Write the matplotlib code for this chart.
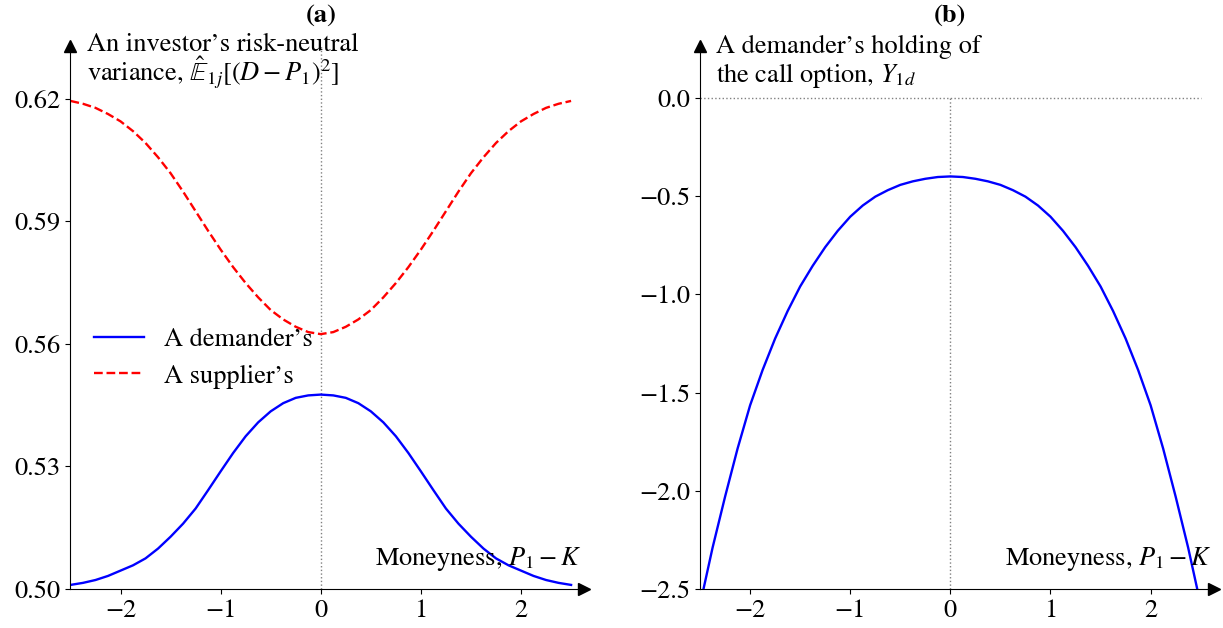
import matplotlib
matplotlib.use('Agg')
import matplotlib.pyplot as plt

plt.rcParams['font.family'] = ['STIXGeneral', 'DejaVu Serif']
plt.rcParams['mathtext.fontset'] = 'stix'
plt.rcParams['font.size'] = 19

# moneyness grid
x = [-2.5, -2.375, -2.25, -2.125, -2.0, -1.875, -1.75, -1.625, -1.5, -1.375, -1.25,
     -1.125, -1.0, -0.875, -0.75, -0.625, -0.5, -0.375, -0.25, -0.125, 0.0,
     0.125, 0.25, 0.375, 0.5, 0.625, 0.75, 0.875, 1.0, 1.125, 1.25,
     1.375, 1.5, 1.625, 1.75, 1.875, 2.0, 2.125, 2.25, 2.375, 2.5]

# panel (a): risk-neutral variance
var_demander = [0.5010, 0.5015, 0.5022, 0.5032, 0.5045, 0.5058, 0.5075, 0.5099, 0.5128, 0.5160, 0.5197,
                0.5242, 0.5288, 0.5333, 0.5374, 0.5408, 0.5435, 0.5455, 0.5468, 0.5474, 0.5476,
                0.5474, 0.5468, 0.5455, 0.5435, 0.5408, 0.5374, 0.5333, 0.5288, 0.5242, 0.5197,
                0.5160, 0.5128, 0.5099, 0.5075, 0.5058, 0.5045, 0.5032, 0.5022, 0.5015, 0.5010]
var_supplier = [0.6195, 0.6188, 0.6178, 0.6163, 0.6145, 0.6121, 0.6092, 0.6057, 0.6018, 0.5973, 0.5925,
                0.5877, 0.5831, 0.5788, 0.5749, 0.5714, 0.5683, 0.5660, 0.5642, 0.5629, 0.5624,
                0.5629, 0.5642, 0.5660, 0.5683, 0.5714, 0.5749, 0.5788, 0.5831, 0.5877, 0.5925,
                0.5973, 0.6018, 0.6057, 0.6092, 0.6121, 0.6145, 0.6163, 0.6178, 0.6188, 0.6195]

# panel (b): demander's holding of the call option
holding = [-2.58, -2.29, -2.03, -1.785, -1.565, -1.385, -1.225, -1.085, -0.960, -0.855, -0.760,
           -0.677, -0.605, -0.548, -0.503, -0.470, -0.443, -0.425, -0.412, -0.403, -0.400,
           -0.403, -0.412, -0.425, -0.443, -0.470, -0.503, -0.548, -0.605, -0.677, -0.760,
           -0.855, -0.960, -1.085, -1.225, -1.385, -1.565, -1.785, -2.03, -2.29, -2.58]

yticks_a = [0.50, 0.53, 0.56, 0.59, 0.62]
yticks_b = [0.0, -0.5, -1.0, -1.5, -2.0, -2.5]
xticks = [-2, -1, 0, 1, 2]

fig = plt.figure(figsize=(12.23, 6.28), dpi=100)
ax1 = fig.add_axes([0.0576, 0.0621, 0.42, 0.865])
ax2 = fig.add_axes([0.5724, 0.0621, 0.42, 0.865])


def style(ax):
    ax.spines['top'].set_visible(False)
    ax.spines['right'].set_visible(False)
    ax.plot(1, 0, '>k', ms=9, transform=ax.transAxes, clip_on=False)
    ax.plot(0, 1, '^k', ms=9, transform=ax.transAxes, clip_on=False)
    ax.set_xlim(-2.5, 2.63)
    ax.set_xticks(xticks)
    ax.text(0.995, 0.044, 'Moneyness, $P_1-K$', transform=ax.transAxes,
            ha='right', va='baseline')


style(ax1)
ax1.axvline(0, color='gray', ls=':', lw=1)
ax1.plot(x, var_demander, color='blue', lw=1.7, label='A demander\u2019s')
ax1.plot(x, var_supplier, color='red', lw=1.7, ls='--', label='A supplier\u2019s')
ax1.set_ylim(0.5, 0.633)
ax1.set_yticks(yticks_a)
ax1.set_yticklabels(['%.2f' % v for v in yticks_a])
ax1.text(0.032, 0.99, 'An investor\u2019s risk-neutral', transform=ax1.transAxes,
         ha='left', va='baseline')
ax1.text(0.032, 0.934, 'variance, $\\hat{\\mathbb{E}}_{1j}[(D-P_1)^2]$', transform=ax1.transAxes,
         ha='left', va='baseline')
ax1.legend(loc='center left', bbox_to_anchor=(0.0, 0.425), frameon=False,
           handlelength=1.9, handletextpad=0.75, labelspacing=0.45)
ax1.text(0, 1.035, '(a)', transform=ax1.get_xaxis_transform(), ha='center',
         va='bottom', fontweight='bold')

style(ax2)
ax2.plot([-2.5, 2.5], [0, 0], color='gray', ls=':', lw=1)
ax2.plot([0, 0], [-2.5, 0], color='gray', ls=':', lw=1)
ax2.plot(x, holding, color='blue', lw=1.7)
ax2.set_ylim(-2.5, 0.265)
ax2.set_yticks(yticks_b)
ax2.set_yticklabels(['%.1f' % v if v == 0 else '\u2212%.1f' % -v for v in yticks_b])
ax2.text(0.032, 0.986, 'A demander\u2019s holding of', transform=ax2.transAxes,
         ha='left', va='baseline')
ax2.text(0.032, 0.934, 'the call option, $Y_{1d}$', transform=ax2.transAxes,
         ha='left', va='baseline')
ax2.text(0, 1.035, '(b)', transform=ax2.get_xaxis_transform(), ha='center',
         va='bottom', fontweight='bold')

fig.savefig('out.png', dpi=100)
